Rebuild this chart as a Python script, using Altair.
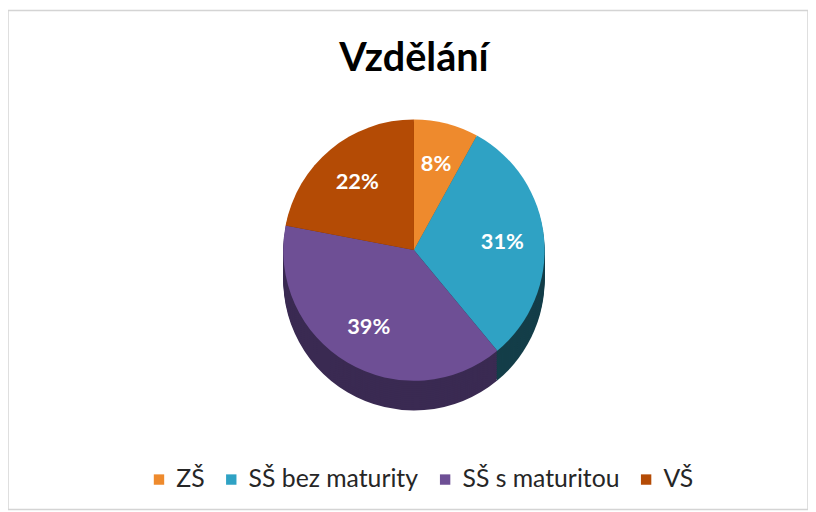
import altair as alt
import pandas as pd

# --- data ---
categories = ["ZŠ", "SŠ bez maturity", "SŠ s maturitou", "VŠ"]
values = [8, 31, 39, 22]
labels = ["8%", "31%", "39%", "22%"]
top_colors = ["#EE8A2D", "#2FA2C4", "#6E4F95", "#B44B05"]
side_colors = ["#8F4E14", "#143E49", "#3A2A52", "#6A2C03"]
title_text = "Vzdělání"

df = pd.DataFrame({
    "kategorie": categories,
    "podil": values,
    "popisek": labels,
    "poradi": list(range(len(categories))),
    "bok": side_colors,
})

CX, CY, R, DEPTH = 410, 242, 132, 30

base = alt.Chart(df)
theta = alt.Theta("podil:Q", stack=True)
order = alt.Order("poradi:O", sort="ascending")

side_layers = [
    base.mark_arc(radius=R).encode(
        theta=theta,
        order=order,
        fill=alt.Fill("bok:N", scale=None),
        x=alt.value(CX),
        y=alt.value(CY + d),
    )
    for d in range(DEPTH, 0, -2)
]

top = base.mark_arc(radius=R).encode(
    theta=theta,
    order=order,
    color=alt.Color(
        "kategorie:N",
        scale=alt.Scale(domain=categories, range=top_colors),
        sort=categories,
        legend=alt.Legend(
            title=None,
            orient="none",
            legendX=140,
            legendY=461,
            direction="horizontal",
            symbolType="square",
            symbolSize=110,
            symbolStrokeWidth=0,
            labelFont="Lato",
            labelFontSize=25,
            labelLimit=300,
            labelColor="#262626",
            columnPadding=14,
            labelOffset=5,
        ),
    ),
    x=alt.value(CX),
    y=alt.value(CY),
)

pct = base.mark_text(
    radius=R * 0.68, font="Lato", fontSize=22, fontWeight="bold", color="white"
).encode(
    theta=theta,
    order=order,
    text="popisek:N",
    x=alt.value(CX),
    y=alt.value(CY),
)

title = alt.Chart(pd.DataFrame({"t": [title_text]})).mark_text(
    font="Lato", fontSize=40, fontWeight="bold", color="#000000", baseline="middle"
).encode(text="t:N", x=alt.value(CX), y=alt.value(49))

chart = alt.layer(*side_layers, top, pct, title).properties(
    width=808, height=504, padding=0
).configure_view(stroke="#d4d4d4", strokeWidth=1.5)

chart.save("out.html", embed_options={"renderer": "svg", "actions": False})
